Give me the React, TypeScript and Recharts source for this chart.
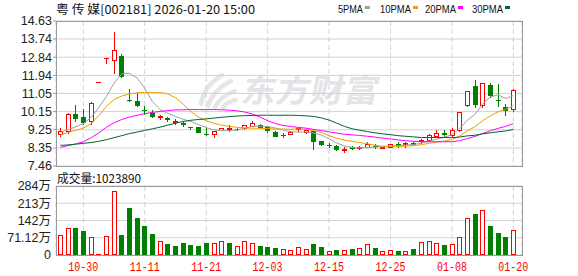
import { ComposedChart, Bar, Line, XAxis, YAxis, CartesianGrid } from "recharts";

const RED = "#ff0000";
const GREEN = "#008000";
const GRID = "#d2d2d2";
const FRAME = "#9a9a9a";

// trading days
const dates = [
  "10-27", "10-28", "10-29", "10-30", "10-31", "11-03", "11-04", "11-05", "11-06", "11-07",
  "11-10", "11-11", "11-12", "11-13", "11-14", "11-17", "11-18", "11-19", "11-20", "11-21",
  "11-24", "11-25", "11-26", "11-27", "11-28", "12-01", "12-02", "12-03", "12-04", "12-05",
  "12-08", "12-09", "12-10", "12-11", "12-12", "12-15", "12-16", "12-17", "12-18", "12-19",
  "12-22", "12-23", "12-24", "12-25", "12-26", "12-29", "12-30", "12-31", "01-05", "01-06",
  "01-07", "01-08", "01-09", "01-12", "01-13", "01-14", "01-15", "01-16", "01-19", "01-20",
];
const tickDates = ["10-30", "11-11", "11-21", "12-03", "12-15", "12-25", "01-08", "01-20"];

const openP = [
  9.06, 9.17, 10.05, 9.86, 9.69, 11.62, 12.78, 12.72, 12.88, 10.74,
  10.67, 10.24, 10.08, 9.87, 9.81, 9.66, 9.59, 9.41, 9.38, 9.04,
  9.02, 9.25, 9.31, 9.27, 9.35, 9.45, 9.48, 9.4, 9.15, 8.97,
  9.04, 9.3, 9.12, 9.18, 8.69, 8.48, 8.46, 8.26, 8.39, 8.33,
  8.42, 8.47, 8.36, 8.42, 8.55, 8.56, 8.6, 8.7, 8.74, 8.96,
  9.09, 8.99, 9.23, 10.48, 11.4, 10.46, 11.47, 10.74, 10.36, 10.28,
];
const closeP = [
  9.18, 10.05, 9.82, 9.63, 10.58, 11.62, 12.78, 13.21, 11.9, 10.7,
  10.47, 10.21, 9.94, 9.91, 9.78, 9.7, 9.52, 9.39, 9.15, 9.02,
  9.18, 9.33, 9.35, 9.31, 9.48, 9.61, 9.4, 9.24, 8.96, 9.01,
  9.15, 9.34, 9.22, 8.71, 8.53, 8.52, 8.28, 8.3, 8.36, 8.42,
  8.56, 8.43, 8.4, 8.53, 8.51, 8.6, 8.57, 8.74, 8.99, 9.07,
  9.05, 9.22, 10.14, 11.15, 10.53, 11.58, 10.98, 10.7, 10.22, 11.23,
];
const highP = [
  9.33, 10.08, 10.46, 10.26, 10.6, 11.63, 12.78, 14.08, 13.0, 11.25,
  11.08, 10.43, 10.23, 9.99, 9.88, 9.77, 9.68, 9.41, 9.4, 9.36,
  9.2, 9.36, 9.48, 9.33, 9.5, 9.69, 9.54, 9.46, 9.17, 9.09,
  9.17, 9.4, 9.25, 9.25, 8.72, 8.61, 8.5, 8.38, 8.46, 8.45,
  8.66, 8.53, 8.42, 8.56, 8.63, 8.64, 8.66, 8.8, 9.02, 9.22,
  9.22, 9.35, 10.14, 11.15, 11.72, 11.58, 11.56, 11.52, 10.53, 11.25,
];
const lowP = [
  8.92, 9.1, 9.69, 9.53, 9.53, 11.61, 12.55, 12.06, 11.88, 10.68,
  10.43, 10.05, 9.86, 9.76, 9.7, 9.56, 9.45, 9.27, 9.13, 9.0,
  8.91, 9.22, 9.2, 9.25, 9.31, 9.43, 9.38, 9.15, 8.93, 8.87,
  9.02, 9.2, 9.1, 8.3, 8.5, 8.38, 8.25, 8.17, 8.28, 8.3,
  8.4, 8.33, 8.33, 8.4, 8.42, 8.42, 8.5, 8.62, 8.7, 8.94,
  8.94, 8.95, 9.2, 10.45, 10.36, 10.38, 10.87, 10.41, 9.97, 10.17,
];

const ma5 = [
  9.12, 9.25, 9.4, 9.55, 9.86, 10.34, 10.89, 11.56, 12.02, 12.04,
  11.81, 11.3, 10.64, 10.25, 10.06, 9.91, 9.77, 9.66, 9.51, 9.36,
  9.25, 9.21, 9.21, 9.24, 9.33, 9.42, 9.43, 9.41, 9.34, 9.24,
  9.15, 9.14, 9.14, 9.09, 8.99, 8.8, 8.6, 8.45, 8.38, 8.36,
  8.37, 8.39, 8.41, 8.44, 8.46, 8.5, 8.52, 8.59, 8.68, 8.79,
  8.88, 9.01, 9.3, 9.72, 10.01, 10.52, 10.87, 10.98, 10.8, 10.94,
];
const ma10 = [
  8.98, 9.12, 9.22, 9.33, 9.55, 9.95, 10.4, 10.75, 10.92, 11.02,
  11.08, 11.1, 11.1, 11.1, 11.02, 10.84, 10.52, 10.15, 9.88, 9.7,
  9.57, 9.48, 9.42, 9.37, 9.34, 9.33, 9.32, 9.31, 9.29, 9.29,
  9.28, 9.29, 9.27, 9.21, 9.12, 8.96, 8.84, 8.74, 8.68, 8.62,
  8.56, 8.49, 8.44, 8.43, 8.43, 8.44, 8.47, 8.51, 8.58, 8.64,
  8.69, 8.77, 8.94, 9.2, 9.4, 9.7, 9.94, 10.14, 10.26, 10.44,
];
const ma20 = [
  8.38, 8.47, 8.55, 8.66, 8.85, 9.1, 9.38, 9.6, 9.76, 9.88,
  9.97, 10.05, 10.11, 10.16, 10.2, 10.23, 10.24, 10.25, 10.25, 10.25,
  10.25, 10.24, 10.22, 10.19, 10.13, 10.03, 9.88, 9.7, 9.56, 9.47,
  9.41, 9.37, 9.33, 9.27, 9.21, 9.15, 9.09, 9.03, 9.0, 8.97,
  8.93, 8.89, 8.84, 8.8, 8.75, 8.71, 8.68, 8.66, 8.66, 8.66,
  8.66, 8.66, 8.71, 8.82, 8.92, 9.07, 9.2, 9.32, 9.42, 9.56,
];
const ma30 = [
  8.48, 8.5, 8.54, 8.58, 8.62, 8.68, 8.76, 8.86, 8.96, 9.06,
  9.14, 9.22, 9.3, 9.38, 9.48, 9.58, 9.66, 9.72, 9.76, 9.79,
  9.83, 9.87, 9.9, 9.93, 9.95, 9.96, 9.97, 9.97, 9.97, 9.97,
  9.97, 9.96, 9.94, 9.91, 9.84, 9.73, 9.58, 9.42, 9.3, 9.23,
  9.16, 9.1, 9.05, 9.01, 8.96, 8.93, 8.9, 8.87, 8.87, 8.87,
  8.87, 8.86, 8.89, 8.95, 8.98, 9.05, 9.1, 9.15, 9.19, 9.27,
];
const maNames = ["5PMA", "10PMA", "20PMA", "30PMA"];
const maColors = ["#a0a0a0", "#f0a000", "#ff00ff", "#006633"];

// volume in 万股, r = up day, g = down day
const volume = [
  81, 110, 110, 99, 73, 3, 77, 262, 82, 193,
  152, 119, 86, 58, 45, 37, 49, 41, 37, 49,
  49, 58, 49, 37, 58, 49, 37, 33, 29, 25,
  21, 32, 23, 45, 33, 15, 21, 21, 25, 29,
  44, 29, 16, 21, 16, 16, 25, 53, 58, 49,
  41, 45, 73, 151, 170, 184, 119, 92, 74, 102.389,
];
const volDir = ("rrggrrrrgg" + "gggrgggggg" + "rrgrrrgggr" + "rrrggrgrgr" + "rgrrgrgrrr" + "grrrgrgggr").split("");

const priceTicks = [7.46, 8.35, 9.25, 10.15, 11.05, 11.94, 12.84, 13.74, 14.63];
const volTicks = [0, 71.12, 142.24, 213.36, 284.48];
const volTickLabels = ["0", "71.12万", "142万", "213万", "284万"];

const rows = dates.map((d, i) => ({
  i,
  date: d,
  open: openP[i],
  close: closeP[i],
  high: highP[i],
  low: lowP[i],
  range: [lowP[i], highP[i]],
  ma5: ma5[i],
  ma10: ma10[i],
  ma20: ma20[i],
  ma30: ma30[i],
  vol: volume[i],
  volUp: volDir[i] === "r",
}));

const xTicks = tickDates.map((d) => dates.indexOf(d));
const X_DOMAIN = [-0.56, 60.13];

const Candle = (p: any) => {
  const { x, y, width, height, payload } = p;
  if (x == null || y == null) return null;
  const top = Math.min(y, y + height);
  const bot = Math.max(y, y + height);
  const { open, close, high, low } = payload;
  const span = high - low || 1;
  const py = (v: number) => top + ((high - v) / span) * (bot - top);
  const c = Math.round(x + width / 2);
  const cx = c + 0.5;
  const up = close >= open;
  const color = up ? RED : GREEN;
  const yo = py(open);
  const yc = py(close);
  const bTop = Math.round(Math.min(yo, yc));
  const bBot = Math.round(Math.max(yo, yc));
  const hi = Math.round(py(high));
  const lo = Math.round(py(low));
  const flat = bBot - bTop < 2;
  return (
    <g shapeRendering="crispEdges">
      {up && !flat ? (
        <>
          <line x1={cx} x2={cx} y1={hi} y2={bTop} stroke={color} />
          <line x1={cx} x2={cx} y1={bBot} y2={lo + 1} stroke={color} />
          <rect x={c - 2 + 0.5} y={bTop + 0.5} width={4} height={bBot - bTop} fill="#fff" stroke={color} />
        </>
      ) : (
        <>
          <line x1={cx} x2={cx} y1={hi} y2={lo + 1} stroke={color} />
          {flat ? (
            <rect x={c - 2} y={bTop} width={5} height={Math.max(bBot - bTop, 1) + (bBot - bTop >= 1 ? 1 : 0)} fill={color} />
          ) : (
            <rect x={c - 2} y={bTop} width={5} height={bBot - bTop + 1} fill={color} />
          )}
        </>
      )}
    </g>
  );
};

const VolBar = (p: any) => {
  const { x, y, width, height, payload } = p;
  if (x == null || y == null) return null;
  const top = Math.round(Math.min(y, y + height));
  const bot = Math.round(Math.max(y, y + height));
  const c = Math.round(x + width / 2);
  if (payload.volUp) {
    if (bot - top < 2) {
      return <rect x={c - 2} y={bot - 1} width={5} height={1} fill={RED} shapeRendering="crispEdges" />;
    }
    return (
      <rect x={c - 2 + 0.5} y={top + 0.5} width={4} height={bot - top - 1} fill="#fff" stroke={RED} shapeRendering="crispEdges" />
    );
  }
  return <rect x={c - 2} y={top} width={5} height={bot - top} fill={GREEN} shapeRendering="crispEdges" />;
};

const DateTick = ({ x, y, payload }: any) => (
  <text
    x={x}
    y={y + 8}
    textAnchor="middle"
    fill={RED}
    fontSize={12.5}
    fontFamily="Liberation Mono, monospace"
    textLength={30}
    lengthAdjust="spacingAndGlyphs"
  >
    {dates[payload.value]}
  </text>
);

const axisFont = { fontSize: 12.5, fill: "#222", fontFamily: "Liberation Sans, Arial, Noto Sans CJK SC" };
const legendX = [338, 380, 425, 472];

export default function App() {
  return (
    <div style={{ position: "absolute", left: 0, top: 0, width: 578, height: 276, background: "#fff", overflow: "hidden" }}>
      {/* watermark */}
      <svg width={578} height={276} style={{ position: "absolute", left: 0, top: 0 }}>
        <g fill="none" stroke="#e6e6ea" strokeWidth={4.5} strokeLinecap="round">
          <path d="M201 104 Q204 86 222 75" />
          <path d="M208 106 Q213 90 231 81" />
          <path d="M215 107 Q221 96 235 91" />
          <path d="M223 107 Q228 101 236 100" />
        </g>
        <text
          transform="translate(240,102) skewX(-12)"
          fontSize={32}
          fontWeight={700}
          fill="#e4e4e8"
          fontFamily="Noto Sans CJK SC"
          textLength={137}
          lengthAdjust="spacingAndGlyphs"
        >
          东方财富
        </text>
      </svg>

      <div style={{ position: "absolute", left: 0, top: 0 }}>
        <ComposedChart width={578} height={176} data={rows} margin={{ top: 21, right: 56, bottom: 10, left: 0 }}>
          <CartesianGrid horizontal={false} stroke={GRID} strokeDasharray="5 3" />
          <CartesianGrid vertical={false} stroke={GRID} />
          <XAxis dataKey="i" type="number" domain={X_DOMAIN} ticks={xTicks} hide />
          <YAxis
            type="number"
            domain={[7.46, 14.63]}
            ticks={priceTicks}
            interval={0}
            width={56}
            axisLine={false}
            tickLine={{ stroke: FRAME }}
            tickSize={3}
            tickMargin={1}
            tick={axisFont}
            tickFormatter={(v: number) => v.toFixed(2)}
          />
          <Bar dataKey="range" barSize={5} shape={Candle} isAnimationActive={false} />
          {["ma5", "ma10", "ma20", "ma30"].map((k, j) => (
            <Line
              key={k}
              dataKey={k}
              type="linear"
              stroke={maColors[j]}
              strokeWidth={1}
              dot={false}
              activeDot={false}
              isAnimationActive={false}
            />
          ))}
        </ComposedChart>
      </div>

      <div style={{ position: "absolute", left: 0, top: 170 }}>
        <ComposedChart width={578} height={106} data={rows} margin={{ top: 16, right: 56, bottom: 0, left: 0 }}>
          <CartesianGrid horizontal={false} stroke={GRID} strokeDasharray="5 3" />
          <CartesianGrid vertical={false} stroke={GRID} />
          <XAxis
            dataKey="i"
            type="number"
            domain={X_DOMAIN}
            ticks={xTicks}
            interval={0}
            height={21}
            axisLine={false}
            tickLine={false}
            tick={<DateTick />}
          />
          <YAxis
            type="number"
            domain={[0, 284.48]}
            ticks={volTicks}
            interval={0}
            width={56}
            axisLine={false}
            tickLine={false}
            tickSize={4}
            tickMargin={1}
            tick={axisFont}
            tickFormatter={(v: number) => volTickLabels[volTicks.indexOf(v)]}
          />
          <Bar dataKey="vol" barSize={5} shape={VolBar} isAnimationActive={false} />
        </ComposedChart>
      </div>

      {/* frames */}
      <div style={{ position: "absolute", left: 56, top: 21, width: 467, height: 146, border: `1px solid ${FRAME}`, boxSizing: "border-box", pointerEvents: "none" }} />
      <div style={{ position: "absolute", left: 56, top: 186, width: 467, height: 70, border: `1px solid ${FRAME}`, boxSizing: "border-box", pointerEvents: "none" }} />

      {/* header, legend, volume title */}
      <svg width={578} height={276} style={{ position: "absolute", left: 0, top: 0, pointerEvents: "none" }}>
        <text x={56} y={14} fontSize={12} fill="#111" fontFamily="Noto Sans CJK SC" textLength={199} lengthAdjust="spacingAndGlyphs">
          粤 传 媒[002181] 2026-01-20 15:00
        </text>
        {maNames.map((n, j) => {
          const w = n.length * 6.2;
          return (
            <g key={n}>
              <text x={legendX[j]} y={12.5} fontSize={11.5} fill="#111" fontFamily="Liberation Sans, Arial" textLength={w} lengthAdjust="spacingAndGlyphs">
                {n}
              </text>
              <rect x={legendX[j] + w + 2} y={6} width={5} height={3} fill={maColors[j]} />
            </g>
          );
        })}
        <text x={57} y={182.5} fontSize={12} fill="#111" fontFamily="Noto Sans CJK SC" textLength={84} lengthAdjust="spacingAndGlyphs">
          成交量:{volume[59] * 10000}
        </text>
      </svg>
    </div>
  );
}
